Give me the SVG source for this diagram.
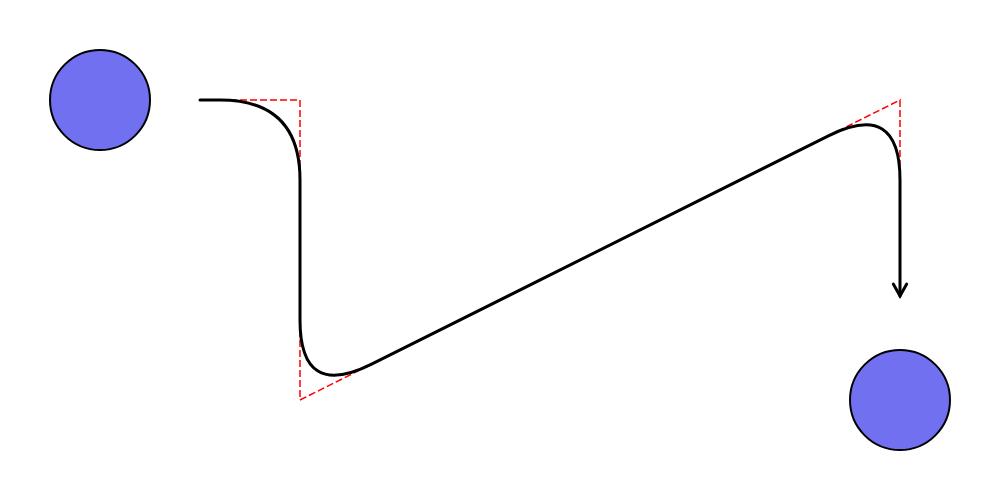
<svg xmlns="http://www.w3.org/2000/svg" width="1000" height="500" viewBox="0 0 1000 500">
  <style>
    .node { fill: #7070f0; stroke: #000; stroke-width: 2; }
    .guide { fill: none; stroke: #ff0000; stroke-width: 1.5; stroke-dasharray: 7 3; }
    .edge { fill: none; stroke: #000; stroke-width: 3; stroke-linecap: round; stroke-linejoin: round; }
  </style>
  <defs>
    <marker id="arrow" viewBox="-8 -2 20 20" refX="8" refY="8" markerWidth="20" markerHeight="20" markerUnits="userSpaceOnUse" orient="auto" overflow="visible">
      <path d="M-4,1.3 L8,8 L-4,14.7" fill="none" stroke="#000" stroke-width="3" stroke-linecap="round" stroke-linejoin="miter"/>
    </marker>
  </defs>
  <g id="node-a"><circle class="node" cx="100" cy="100" r="50"/></g>
  <g id="node-b"><circle class="node" cx="900" cy="400" r="50"/></g>
  <g id="connectors">
    <g id="guides">
      <polyline class="guide" points="220,100 300,100 300,180"/>
      <polyline class="guide" points="300,320 300,400 371.6,364.2"/>
      <polyline class="guide" points="828.4,135.8 900,100 900,180"/>
    </g>
    <path class="edge" marker-end="url(#arrow)" d="M200,100 L220,100 Q300,100 300,180 L300,320 Q300,400 371.6,364.2 L828.4,135.8 Q900,100 900,180 L900,296"/>
  </g>
</svg>
